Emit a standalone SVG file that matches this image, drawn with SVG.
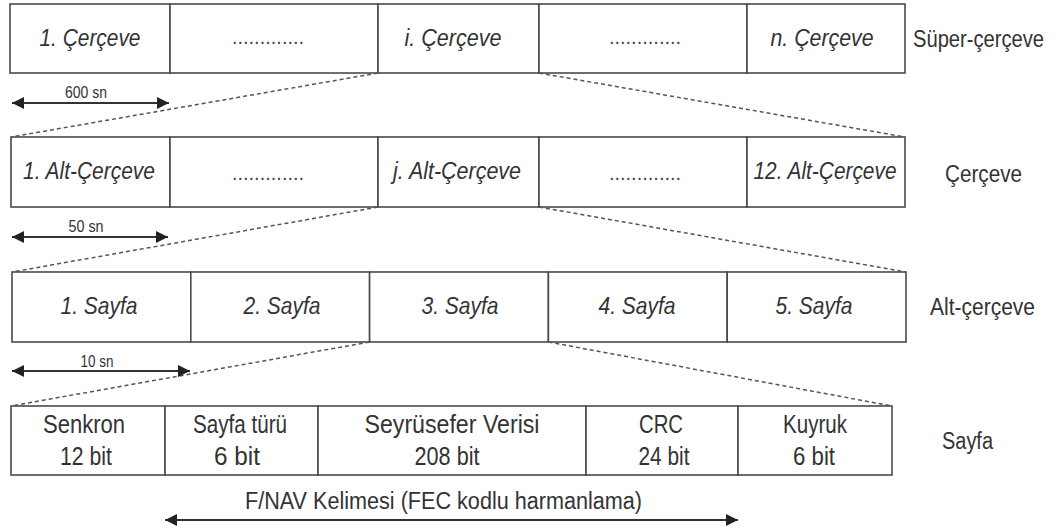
<svg xmlns="http://www.w3.org/2000/svg" width="1062" height="532" viewBox="0 0 1062 532">
<style>
  .cell { fill: #ffffff; stroke: #4a4a4a; stroke-width: 1.6; }
  .it { font-family: "Liberation Sans", Arial, sans-serif; font-style: italic; font-size: 24px; fill: #333333; text-anchor: middle; }
  .up { font-family: "Liberation Sans", Arial, sans-serif; font-size: 25px; fill: #333333; text-anchor: middle; }
  .lbl { font-family: "Liberation Sans", Arial, sans-serif; font-size: 23px; fill: #333333; text-anchor: start; }
  .sm { font-family: "Liberation Sans", Arial, sans-serif; font-size: 16px; fill: #333333; text-anchor: middle; }
  .dots { font-family: "Liberation Sans", Arial, sans-serif; font-size: 20px; fill: #444444; text-anchor: middle; }
  .dash { fill: none; stroke: #555555; stroke-width: 1.5; stroke-dasharray: 4 3; }
  .arr { fill: none; stroke: #333333; stroke-width: 2; marker-start: url(#ah); marker-end: url(#ah); }
</style>
<defs>
  <marker id="ah" markerUnits="userSpaceOnUse" markerWidth="14" markerHeight="12" refX="12" refY="6" orient="auto-start-reverse">
    <path d="M0,0 L12,6 L0,12 Z" fill="#222222"/>
  </marker>
</defs>
<rect x="0" y="0" width="1062" height="532" fill="#ffffff"/>

<!-- Row 1: Süper-çerçeve -->
<g id="r1c1"><rect class="cell" x="10" y="4" width="160" height="69"/><text class="it" x="90" y="46" textLength="101" lengthAdjust="spacingAndGlyphs">1. Çerçeve</text></g>
<g id="r1c2"><rect class="cell" x="170" y="4" width="208" height="69"/><text class="dots" x="268" y="44">.............</text></g>
<g id="r1c3"><rect class="cell" x="378" y="4" width="161" height="69"/><text class="it" x="453" y="46" textLength="97" lengthAdjust="spacingAndGlyphs">i. Çerçeve</text></g>
<g id="r1c4"><rect class="cell" x="539" y="4" width="208" height="69"/><text class="dots" x="645" y="44">.............</text></g>
<g id="r1c5"><rect class="cell" x="747" y="4" width="158" height="69"/><text class="it" x="822" y="46" textLength="103" lengthAdjust="spacingAndGlyphs">n. Çerçeve</text></g>
<g id="lbl1"><text class="lbl" x="913" y="47" textLength="131" lengthAdjust="spacingAndGlyphs">Süper-çerçeve</text></g>

<!-- Row 2: Çerçeve -->
<g id="r2c1"><rect class="cell" x="11" y="137" width="159" height="70"/><text class="it" x="89" y="179" textLength="132" lengthAdjust="spacingAndGlyphs">1. Alt-Çerçeve</text></g>
<g id="r2c2"><rect class="cell" x="170" y="137" width="208" height="70"/><text class="dots" x="268" y="180">.............</text></g>
<g id="r2c3"><rect class="cell" x="378" y="137" width="161" height="70"/><text class="it" x="457" y="179" textLength="128" lengthAdjust="spacingAndGlyphs">j. Alt-Çerçeve</text></g>
<g id="r2c4"><rect class="cell" x="539" y="137" width="208" height="70"/><text class="dots" x="645" y="180">.............</text></g>
<g id="r2c5"><rect class="cell" x="747" y="137" width="158" height="70"/><text class="it" x="825" y="179" textLength="143" lengthAdjust="spacingAndGlyphs">12. Alt-Çerçeve</text></g>
<g id="lbl2"><text class="lbl" x="945" y="182" textLength="77" lengthAdjust="spacingAndGlyphs">Çerçeve</text></g>

<!-- Row 3: Alt-çerçeve -->
<g id="r3c1"><rect class="cell" x="12" y="272" width="178.8" height="70"/><text class="it" x="99" y="314" textLength="77" lengthAdjust="spacingAndGlyphs">1. Sayfa</text></g>
<g id="r3c2"><rect class="cell" x="190.8" y="272" width="178.8" height="70"/><text class="it" x="282" y="314" textLength="77" lengthAdjust="spacingAndGlyphs">2. Sayfa</text></g>
<g id="r3c3"><rect class="cell" x="369.6" y="272" width="178.8" height="70"/><text class="it" x="460" y="314" textLength="77" lengthAdjust="spacingAndGlyphs">3. Sayfa</text></g>
<g id="r3c4"><rect class="cell" x="548.4" y="272" width="178.8" height="70"/><text class="it" x="637" y="314" textLength="77" lengthAdjust="spacingAndGlyphs">4. Sayfa</text></g>
<g id="r3c5"><rect class="cell" x="727.2" y="272" width="178.8" height="70"/><text class="it" x="814" y="314" textLength="77" lengthAdjust="spacingAndGlyphs">5. Sayfa</text></g>
<g id="lbl3"><text class="lbl" x="930" y="315" textLength="105" lengthAdjust="spacingAndGlyphs">Alt-çerçeve</text></g>

<!-- Row 4: Sayfa -->
<g id="r4c1"><rect class="cell" x="11" y="406" width="154" height="69"/><text class="up" x="84" y="433" textLength="82" lengthAdjust="spacingAndGlyphs">Senkron</text><text class="up" x="86" y="465" textLength="52" lengthAdjust="spacingAndGlyphs">12 bit</text></g>
<g id="r4c2"><rect class="cell" x="165" y="406" width="153" height="69"/><text class="up" x="240" y="433" textLength="94" lengthAdjust="spacingAndGlyphs">Sayfa türü</text><text class="up" x="237" y="465" textLength="46" lengthAdjust="spacingAndGlyphs">6 bit</text></g>
<g id="r4c3"><rect class="cell" x="318" y="406" width="268" height="69"/><text class="up" x="452" y="433" textLength="175" lengthAdjust="spacingAndGlyphs">Seyrüsefer Verisi</text><text class="up" x="447" y="465" textLength="65" lengthAdjust="spacingAndGlyphs">208 bit</text></g>
<g id="r4c4"><rect class="cell" x="586" y="406" width="152" height="69"/><text class="up" x="661" y="433" textLength="44" lengthAdjust="spacingAndGlyphs">CRC</text><text class="up" x="664" y="465" textLength="51" lengthAdjust="spacingAndGlyphs">24 bit</text></g>
<g id="r4c5"><rect class="cell" x="738" y="406" width="154" height="69"/><text class="up" x="815" y="433" textLength="64" lengthAdjust="spacingAndGlyphs">Kuyruk</text><text class="up" x="814" y="465" textLength="42" lengthAdjust="spacingAndGlyphs">6 bit</text></g>
<g id="lbl4"><text class="lbl" x="942" y="449" textLength="51" lengthAdjust="spacingAndGlyphs">Sayfa</text></g>

<!-- Duration labels -->
<g id="dur1"><text class="sm" x="86" y="98" textLength="42" lengthAdjust="spacingAndGlyphs">600 sn</text></g>
<g id="dur2"><text class="sm" x="86" y="232" textLength="35" lengthAdjust="spacingAndGlyphs">50 sn</text></g>
<g id="dur3"><text class="sm" x="97" y="367" textLength="33" lengthAdjust="spacingAndGlyphs">10 sn</text></g>
<g id="fnav"><text class="lbl" x="245" y="509" textLength="397" lengthAdjust="spacingAndGlyphs">F/NAV Kelimesi (FEC kodlu harmanlama)</text></g>

<!-- Connectors -->
<g id="connectors">
  <line class="dash" x1="378" y1="73" x2="11" y2="137"/>
  <line class="dash" x1="539" y1="73" x2="905" y2="137"/>
  <line class="dash" x1="378" y1="207" x2="12" y2="272"/>
  <line class="dash" x1="539" y1="207" x2="906" y2="272"/>
  <line class="dash" x1="369.6" y1="342" x2="11" y2="406"/>
  <line class="dash" x1="548.4" y1="342" x2="892" y2="406"/>
  <line class="arr" x1="12" y1="103" x2="169" y2="103"/>
  <line class="arr" x1="12" y1="237" x2="168" y2="237"/>
  <line class="arr" x1="12" y1="371" x2="190" y2="371"/>
  <line class="arr" x1="165" y1="520" x2="738" y2="520"/>
</g>
</svg>
